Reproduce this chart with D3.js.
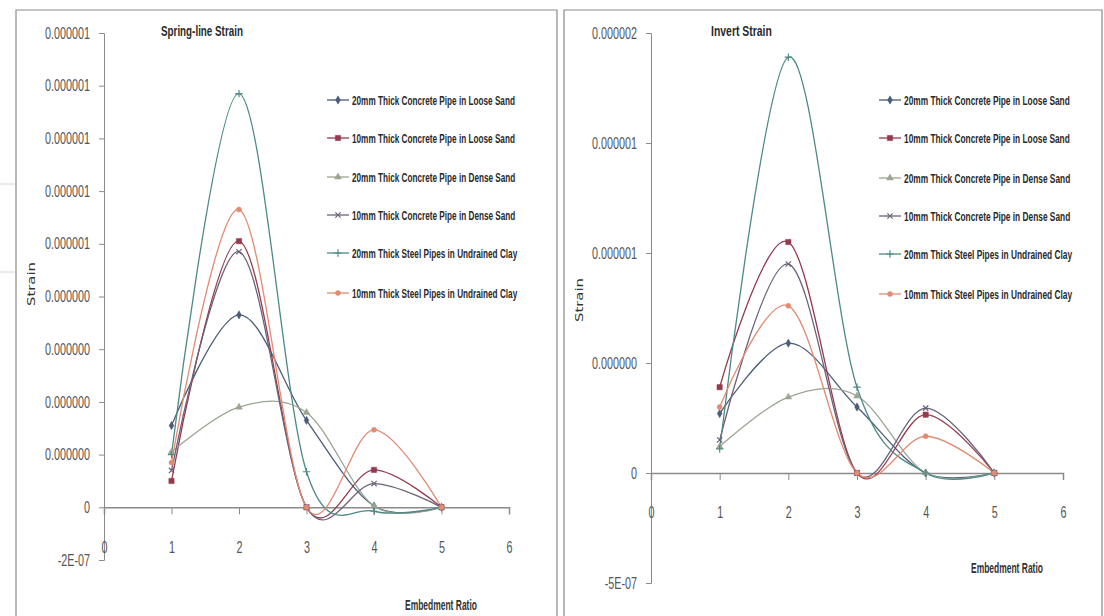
<!DOCTYPE html>
<html lang="en">
  <head>
    <meta charset="UTF-8" />
    <title>Spring-line and Invert Strain</title>
    <script src="https://cdn.jsdelivr.net/npm/d3@7.6.1/dist/d3.min.js"></script>
    <style>
      body { margin: 0; background: #fff; }
      svg { display: block; }
    </style>
  </head>
  <body>
    <div id="box"></div>
    <script>
      const width = 1104;
      const height = 616;

      // 数据
      const ratios = [1, 2, 3, 4, 5];
      const seriesNames = [
        '20mm Thick Concrete Pipe in Loose Sand',
        '10mm Thick Concrete Pipe in Loose Sand',
        '20mm Thick Concrete Pipe in Dense Sand',
        '10mm Thick Concrete Pipe in Dense Sand',
        '20mm Thick Steel Pipes in Undrained Clay',
        '10mm Thick Steel Pipes in Undrained Clay'
      ];
      const xTicks = [0, 1, 2, 3, 4, 5, 6];

      // Spring-line
      const springLoose20 = [3.1e-7, 7.3e-7, 3.3e-7, 0.05e-7, 0];
      const springLoose10 = [1.0e-7, 10.1e-7, 0, 1.42e-7, 0];
      const springDense20 = [2.1e-7, 3.8e-7, 3.6e-7, 0.05e-7, 0];
      const springDense10 = [1.4e-7, 9.7e-7, 0, 0.9e-7, 0];
      const springSteel20 = [2.0e-7, 15.7e-7, 1.35e-7, -0.15e-7, 0];
      const springSteel10 = [1.7e-7, 11.3e-7, 0, 2.94e-7, 0];
      const springTicks = [-2e-7, 0, 2e-7, 4e-7, 6e-7, 8e-7, 10e-7, 12e-7, 14e-7, 16e-7, 18e-7];
      const springTickLabels = ['-2E-07', '0', '0.000000', '0.000000', '0.000000', '0.000000',
        '0.000001', '0.000001', '0.000001', '0.000001', '0.000001'];

      // Invert
      const invertLoose20 = [2.7e-7, 5.9e-7, 3.0e-7, 0, 0];
      const invertLoose10 = [3.9e-7, 10.5e-7, 0, 2.65e-7, 0];
      const invertDense20 = [1.2e-7, 3.45e-7, 3.5e-7, 0, 0];
      const invertDense10 = [1.5e-7, 9.5e-7, 0, 2.95e-7, 0];
      const invertSteel20 = [1.1e-7, 18.9e-7, 3.9e-7, 0, 0];
      const invertSteel10 = [3.0e-7, 7.6e-7, 0, 1.67e-7, 0];
      const invertTicks = [-5e-7, 0, 5e-7, 10e-7, 15e-7, 20e-7];
      const invertTickLabels = ['-5E-07', '0', '0.000000', '0.000001', '0.000001', '0.000002'];

      const colors = ['#4a5c78', '#953a4e', '#9aa592', '#6b6279', '#4d8a86', '#e38a72'];
      const symbols = [d3.symbolDiamond, d3.symbolSquare, d3.symbolTriangle, d3.symbolTimes, d3.symbolPlus, d3.symbolCircle];
      const strokeSym = [false, false, false, true, true, false];

      const svg = d3.select('#box').append('svg').attr('width', width).attr('height', height);
      svg.append('rect').attr('width', width).attr('height', height).attr('fill', '#fff');

      // 背景上的浅灰线
      svg.append('line').attr('x1', 0).attr('x2', 15).attr('y1', 184).attr('y2', 184).attr('stroke', '#d4d4d4');
      svg.append('line').attr('x1', 0).attr('x2', 15).attr('y1', 272).attr('y2', 272).attr('stroke', '#d4d4d4');

      // 把文字横向压窄(用 scale, 不用 textLength)
      function squeeze(sel, factor, rotate) {
        sel.each(function () {
          const t = d3.select(this);
          const x = +t.attr('x') || 0;
          const y = +t.attr('y') || 0;
          t.attr('x', 0).attr('y', 0)
            .attr('transform', `translate(${x},${y})${rotate ? ` rotate(${rotate})` : ''} scale(${factor},1)`);
        });
      }
      function fitWidth(sel, target, rotate) {
        const w = sel.node().getComputedTextLength();
        squeeze(sel, target / w, rotate);
      }

      function drawPanel(cfg) {
        const g = svg.append('g');
        // 边框
        g.append('path')
          .attr('d', `M${cfg.frame[0]},616V${cfg.frame[1]}H${cfg.frame[2]}V616`)
          .attr('fill', 'none').attr('stroke', '#8a8a8a').attr('stroke-width', 1.2);

        const x = d3.scaleLinear().domain([0, 6]).range(cfg.xRange);
        const y = d3.scaleLinear().domain(cfg.yDomain).range(cfg.yRange);

        // Y轴
        const yAxis = d3.axisLeft(y)
          .tickValues(cfg.ticks)
          .tickSize(5)
          .tickPadding(9)
          .tickFormat((d, i) => cfg.tickLabels[i]);
        const gy = g.append('g').attr('transform', `translate(${cfg.xRange[0]},0)`).call(yAxis);
        gy.select('.domain').attr('stroke', '#8a8a8a');
        gy.selectAll('.tick line').attr('stroke', '#8a8a8a');
        gy.selectAll('text')
          .attr('font-family', 'Liberation Sans, Arial, sans-serif')
          .attr('font-size', 16).attr('fill', '#555');

        // X轴
        const xAxis = d3.axisBottom(x).tickValues(xTicks).tickSize(7).tickPadding(27).tickFormat(d3.format('d'));
        const gx = g.append('g').attr('transform', `translate(0,${y(0)})`).call(xAxis);
        gx.select('.domain').attr('stroke', '#8a8a8a').attr('stroke-width', 1.5);
        gx.selectAll('.tick line').attr('stroke', '#8a8a8a');
        gx.selectAll('text')
          .attr('font-family', 'Liberation Sans, Arial, sans-serif')
          .attr('font-size', 16).attr('fill', '#555');

        const factor = 45 / gy.select('.tick:nth-of-type(3) text').node().getComputedTextLength();
        squeeze(gy.selectAll('text'), factor);
        squeeze(gx.selectAll('text'), factor);

        // 曲线
        const line = d3.line()
          .x((d, i) => x(ratios[i]))
          .y(d => y(d))
          .curve(d3.curveCardinal.tension(0));

        cfg.series.forEach((vals, k) => {
          g.append('path')
            .datum(vals)
            .attr('d', line)
            .attr('fill', 'none')
            .attr('stroke', colors[k])
            .attr('stroke-width', 1.3);
        });
        cfg.series.forEach((vals, k) => {
          const sym = d3.symbol().type(symbols[k]).size(k === 1 ? 28 : 20);
          g.selectAll(null)
            .data(vals)
            .enter()
            .append('path')
            .attr('d', sym)
            .attr('transform', (d, i) => `translate(${x(ratios[i])},${y(d)})`)
            .attr('fill', strokeSym[k] ? 'none' : colors[k])
            .attr('stroke', colors[k])
            .attr('stroke-width', strokeSym[k] ? 1.2 : 0.5);
        });

        // 图例
        const lg = g.append('g');
        seriesNames.forEach((name, k) => {
          const yy = cfg.legendY[k];
          lg.append('line')
            .attr('x1', cfg.legendX).attr('x2', cfg.legendX + 22)
            .attr('y1', yy).attr('y2', yy)
            .attr('stroke', colors[k]).attr('stroke-width', 1.3);
          lg.append('path')
            .attr('d', d3.symbol().type(symbols[k]).size(k === 1 ? 28 : 20))
            .attr('transform', `translate(${cfg.legendX + 11},${yy})`)
            .attr('fill', strokeSym[k] ? 'none' : colors[k])
            .attr('stroke', colors[k])
            .attr('stroke-width', strokeSym[k] ? 1.2 : 0.5);
          lg.append('text')
            .attr('class', 'lgText')
            .attr('x', cfg.legendX + 25)
            .attr('y', yy)
            .attr('dy', '0.35em')
            .attr('font-family', 'Liberation Sans, Arial, sans-serif')
            .attr('font-weight', 'bold')
            .attr('font-size', 13)
            .attr('fill', '#2a2a2a')
            .text(name);
        });
        const lgTexts = lg.selectAll('.lgText');
        const lgFactor = cfg.legendW / lgTexts.node().getComputedTextLength();
        squeeze(lgTexts, lgFactor);

        // 标题
        g.append('text')
          .attr('x', cfg.titleX).attr('y', 31).attr('dy', '0.35em')
          .attr('font-family', 'Liberation Sans, Arial, sans-serif')
          .attr('font-weight', 'bold').attr('font-size', 15).attr('fill', '#2a2a2a')
          .text(cfg.title)
          .call(fitWidth, cfg.titleW);

        // 轴标题
        g.append('text')
          .attr('x', cfg.xTitle[0]).attr('y', cfg.xTitle[1]).attr('dy', '0.35em')
          .attr('font-family', 'Liberation Sans, Arial, sans-serif')
          .attr('font-weight', 'bold').attr('font-size', 14).attr('fill', '#333')
          .text('Embedment Ratio')
          .call(fitWidth, 72);

        g.append('text')
          .attr('x', cfg.yTitle[0]).attr('y', cfg.yTitle[1])
          .attr('text-anchor', 'middle').attr('dy', '0.35em')
          .attr('font-family', 'DejaVu Sans, sans-serif')
          .attr('font-size', 11).attr('fill', '#333')
          .text('Strain')
          .call(fitWidth, 44, -90);
      }

      drawPanel({
        frame: [16, 10, 557],
        xRange: [104, 509],
        yDomain: [-2e-7, 1.8e-6],
        yRange: [560, 33],
        ticks: springTicks,
        tickLabels: springTickLabels,
        series: [springLoose20, springLoose10, springDense20, springDense10, springSteel20, springSteel10],
        legendX: 327,
        legendY: [100, 138, 177, 215, 253, 293],
        legendW: 163,
        title: 'Spring-line Strain',
        titleX: 161,
        titleW: 82,
        xTitle: [405, 605],
        yTitle: [31, 284]
      });

      drawPanel({
        frame: [564, 10, 1102],
        xRange: [651, 1063],
        yDomain: [-5e-7, 2e-6],
        yRange: [583, 33],
        ticks: invertTicks,
        tickLabels: invertTickLabels,
        series: [invertLoose20, invertLoose10, invertDense20, invertDense10, invertSteel20, invertSteel10],
        legendX: 879,
        legendY: [100, 138, 178, 216, 254, 294],
        legendW: 166,
        title: 'Invert Strain',
        titleX: 711,
        titleW: 61,
        xTitle: [971, 568],
        yTitle: [579, 300]
      });
    </script>
  </body>
</html>
